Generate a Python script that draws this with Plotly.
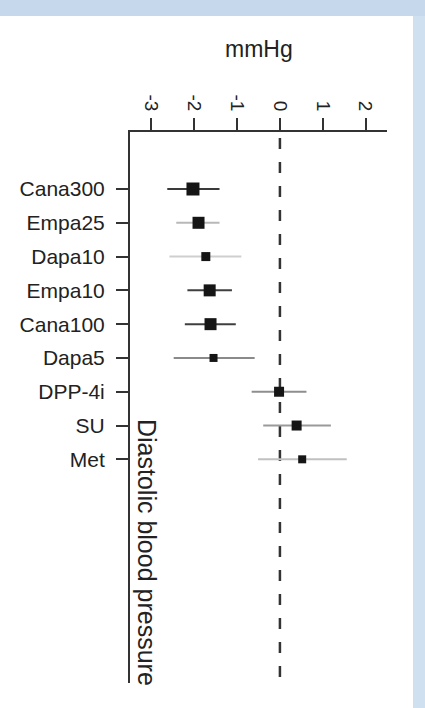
import plotly.graph_objects as go

# ---- data ----
drugs = ["Cana300", "Empa25", "Dapa10", "Empa10", "Cana100", "Dapa5", "DPP-4i", "SU", "Met"]
mean_diff = [-2.03, -1.90, -1.73, -1.64, -1.62, -1.55, -0.02, 0.39, 0.52]
ci_low = [-2.63, -2.42, -2.58, -2.16, -2.22, -2.48, -0.66, -0.39, -0.51]
ci_high = [-1.41, -1.41, -0.90, -1.12, -1.03, -0.59, 0.62, 1.19, 1.56]
marker_sizes = [13, 12, 9, 12, 12, 8, 10, 10, 8]
ci_colors = ["#3a3a3a", "#b8b8b8", "#cfcfcf", "#3f3f3f", "#3f3f3f", "#8a8a8a", "#8e8e8e", "#9a9a9a", "#c0c0c0"]
x_ticks = [-3, -2, -1, 0, 1, 2]
x_tick_text = ["-3", "-2", "-1", "0", "1", "2"]

FONT = "Liberation Sans, Arial, Helvetica, sans-serif"
TXT = "#222222"

fig = go.Figure()
pos = list(range(len(drugs)))

for i, d in enumerate(drugs):
    fig.add_trace(go.Scatter(
        x=[ci_low[i], ci_high[i]], y=[pos[i], pos[i]], mode="lines",
        line=dict(color=ci_colors[i], width=2), showlegend=False, hoverinfo="skip"))

fig.add_trace(go.Scatter(
    x=mean_diff, y=pos, mode="markers",
    marker=dict(symbol="square", size=marker_sizes, color="#151515", opacity=1, line=dict(width=0)),
    showlegend=False, text=drugs))

# plot area: x 130..387, y 132..683 (px)
W, H = 425, 708
L, R, T, B = 130, 425 - 387, 132, 708 - 683
ph = H - T - B
pw = W - L - R

def py(p):  # pixel y -> paper y
    return (H - B - p) / ph

def px(p):  # pixel x -> paper x
    return (p - L) / pw

# background bands
fig.add_shape(type="rect", xref="paper", yref="paper", x0=px(0), x1=px(425), y0=py(16), y1=py(0),
              fillcolor="#c5d8ec", line=dict(width=0), layer="below")
fig.add_shape(type="rect", xref="paper", yref="paper", x0=px(413), x1=px(425), y0=py(708), y1=py(16),
              fillcolor="#cfe0f1", line=dict(width=0), layer="below")

# zero reference line
fig.add_shape(type="line", xref="x", yref="paper", x0=0, x1=0, y0=py(677), y1=py(132),
              line=dict(color="#333333", width=2.5, dash="11px,13px"), layer="below")

fig.add_annotation(text="mmHg", xref="paper", yref="paper", x=px(259), y=py(49),
                   showarrow=False, font=dict(family=FONT, size=23, color=TXT),
                   xanchor="center", yanchor="middle")
fig.add_annotation(text="Diastolic blood pressure", xref="paper", yref="paper",
                   x=px(147), y=py(552), textangle=90, showarrow=False,
                   font=dict(family=FONT, size=25, color=TXT),
                   xanchor="center", yanchor="middle")

y_top = (132 - 189) / 33.79
y_bot = (683 - 189) / 33.79

fig.update_layout(
    width=W, height=H,
    margin=dict(l=L, r=R, t=T, b=B),
    paper_bgcolor="white", plot_bgcolor="white",
    xaxis=dict(side="top", range=[-3.5, 2.5], tickvals=x_ticks, ticktext=x_tick_text,
               tickangle=90, ticks="outside", ticklen=12, tickwidth=2, tickcolor="#333",
               showline=True, linecolor="#333", linewidth=2, showgrid=False, zeroline=False,
               tickfont=dict(family=FONT, size=19, color=TXT)),
    yaxis=dict(range=[y_bot, y_top], tickvals=pos, ticktext=drugs,
               ticks="outside", ticklen=12, tickwidth=2, tickcolor="#333",
               showline=True, linecolor="#333", linewidth=2, showgrid=False, zeroline=False,
               tickfont=dict(family=FONT, size=21, color=TXT), ticklabelstandoff=7),
)

fig.write_html("out.html")
